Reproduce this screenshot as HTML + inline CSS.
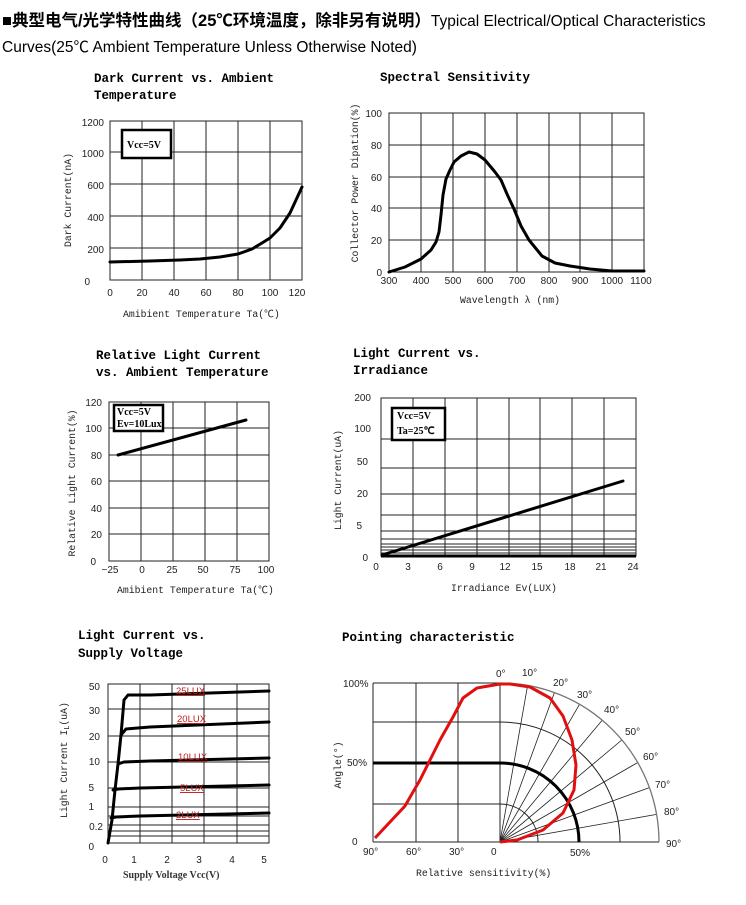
<!DOCTYPE html>
<html><head><meta charset="utf-8"><style>
body{margin:0;background:#fff}
svg{display:block}
.h{font-family:"Liberation Sans","Noto Sans CJK SC",sans-serif}
.t{font-family:"Liberation Mono","Noto Sans CJK SC",monospace;font-weight:bold;font-size:12.5px}
.n{font-family:"Liberation Sans",sans-serif;font-size:10px;fill:#222}
.m{font-family:"Liberation Mono","Noto Sans CJK SC",monospace;font-size:9.8px;fill:#222}
.g{stroke:#222;stroke-width:1;fill:none}
.c{stroke:#000;stroke-width:3;fill:none;stroke-linejoin:round;stroke-linecap:round}
.bx{font-family:"Liberation Serif",serif;font-weight:bold;font-size:10px}
</style></head><body>
<svg width="746" height="905" viewBox="0 0 746 905" xmlns="http://www.w3.org/2000/svg">
<text x="2" y="26" class="h" font-size="16.5" font-weight="bold">■典型电气/光学特性曲线（25℃环境温度，除非另有说明）<tspan font-weight="normal" font-size="15.5">Typical Electrical/Optical Characteristics</tspan></text>
<text x="2" y="52" class="h" font-size="15.5">Curves(25℃ Ambient Temperature Unless Otherwise Noted)</text>

<!-- Chart 1 -->
<text x="94" y="82" class="t">Dark Current vs. Ambient</text>
<text x="94" y="99" class="t">Temperature</text>
<g class="g">
<rect x="110" y="121" width="192" height="159"/>
<path d="M142 121V280M174 121V280M206 121V280M238 121V280M270 121V280M110 152H302M110 184H302M110 216H302M110 248H302"/>
</g>
<g class="n" text-anchor="end"><text x="104" y="126">1200</text><text x="104" y="157">1000</text><text x="104" y="189">600</text><text x="104" y="221">400</text><text x="104" y="253">200</text><text x="90" y="285">0</text></g>
<g class="n" text-anchor="middle"><text x="110" y="296">0</text><text x="142" y="296">20</text><text x="174" y="296">40</text><text x="206" y="296">60</text><text x="238" y="296">80</text><text x="270" y="296">100</text><text x="297" y="296">120</text></g>
<text x="123" y="317" class="m">Amibient Temperature Ta(℃)</text>
<text transform="translate(71,200) rotate(-90)" class="m" text-anchor="middle">Dark Current(nA)</text>
<rect x="122" y="130" width="49" height="28" fill="#fff" stroke="#000" stroke-width="2.5"/>
<text x="127" y="148" class="bx">Vcc=5V</text>
<path class="c" d="M110 262L150 261L180 260L200 259L220 257L238 254L252 249L262 243L270 238L280 228L290 213L302 187"/>

<!-- Chart 2 -->
<text x="380" y="81" class="t">Spectral Sensitivity</text>
<g class="g">
<rect x="389" y="113" width="255" height="159"/>
<path d="M421 113V272M453 113V272M485 113V272M517 113V272M549 113V272M580 113V272M612 113V272M389 145H644M389 177H644M389 208H644M389 240H644"/>
</g>
<g class="n" text-anchor="end"><text x="382" y="117">100</text><text x="382" y="149">80</text><text x="382" y="181">60</text><text x="382" y="212">40</text><text x="382" y="244">20</text><text x="382" y="276">0</text></g>
<g class="n" text-anchor="middle" font-size="9.5"><text x="389" y="284">300</text><text x="421" y="284">400</text><text x="453" y="284">500</text><text x="485" y="284">600</text><text x="517" y="284">700</text><text x="549" y="284">800</text><text x="580" y="284">900</text><text x="612" y="284">1000</text><text x="641" y="284">1100</text></g>
<text x="510" y="303" class="m" text-anchor="middle">Wavelength λ (nm)</text>
<text transform="translate(358,183) rotate(-90)" class="m" text-anchor="middle">Collector Power Dipation(%)</text>
<path class="c" d="M389 272L405 267L421 259L431 250L436 242L439 232L441 215L443 195L446 179L450 170L454 162L461 156L469 152L477 154L485 160L495 172L501 180L507 194L514 209L521 226L529 240L542 256L555 263L570 266L590 269L612 271L644 271"/>

<!-- Chart 3 -->
<text x="96" y="359" class="t">Relative Light Current</text>
<text x="96" y="376" class="t">vs. Ambient Temperature</text>
<g class="g">
<rect x="109" y="402" width="160" height="159"/>
<path d="M141 402V561M173 402V561M205 402V561M237 402V561M109 428H269M109 455H269M109 481H269M109 508H269M109 534H269"/>
</g>
<g class="n" text-anchor="end"><text x="102" y="406">120</text><text x="102" y="432">100</text><text x="102" y="459">80</text><text x="102" y="485">60</text><text x="102" y="512">40</text><text x="102" y="538">20</text><text x="96" y="565">0</text></g>
<g class="n" text-anchor="middle"><text x="110" y="573">−25</text><text x="142" y="573">0</text><text x="172" y="573">25</text><text x="203" y="573">50</text><text x="235" y="573">75</text><text x="266" y="573">100</text></g>
<text x="117" y="593" class="m">Amibient Temperature Ta(℃)</text>
<text transform="translate(75,483) rotate(-90)" class="m" text-anchor="middle">Relative Light Current(%)</text>
<rect x="114" y="405" width="49" height="26" fill="#fff" stroke="#000" stroke-width="2.5"/>
<text x="117" y="415" class="bx" font-size="9">Vcc=5V</text>
<text x="117" y="427" class="bx" font-size="9">Ev=10Lux</text>
<path class="c" d="M118 455L246 420"/>

<!-- Chart 4 -->
<text x="353" y="357" class="t">Light Current vs.</text>
<text x="353" y="374" class="t">Irradiance</text>
<g class="g">
<rect x="381" y="398" width="255" height="158"/>
<path d="M413 398V556M445 398V556M477 398V556M509 398V556M540 398V556M572 398V556M604 398V556M381 439H636M381 468H636M381 494H636M381 515H636M381 531H636M381 539H636M381 544H636M381 547H636M381 550H636M381 553H636"/>
</g>
<path d="M381 556H636" stroke="#000" stroke-width="3"/>
<g class="n" text-anchor="end"><text x="371" y="401">200</text><text x="371" y="432">100</text><text x="368" y="465">50</text><text x="368" y="497">20</text><text x="362" y="529">5</text><text x="368" y="561">0</text></g>
<g class="n" text-anchor="middle"><text x="376" y="570">0</text><text x="408" y="570">3</text><text x="440" y="570">6</text><text x="472" y="570">9</text><text x="505" y="570">12</text><text x="537" y="570">15</text><text x="570" y="570">18</text><text x="601" y="570">21</text><text x="633" y="570">24</text></g>
<text x="451" y="591" class="m">Irradiance Ev(LUX)</text>
<text transform="translate(341,480) rotate(-90)" class="m" text-anchor="middle">Light Current(uA)</text>
<rect x="392" y="408" width="53" height="32" fill="#fff" stroke="#000" stroke-width="2.5"/>
<text x="397" y="419" class="bx" font-size="9.5">Vcc=5V</text>
<text x="397" y="434" class="bx" font-size="9.5">Ta=25℃</text>
<path class="c" d="M382 555L623 481"/>

<!-- Chart 5 -->
<text x="78" y="639" class="t">Light Current vs.</text>
<text x="78" y="657" class="t">Supply Voltage</text>
<g class="g">
<rect x="108" y="684" width="161" height="159"/>
<path d="M140 684V843M172 684V843M204 684V843M237 684V843M108 709H269M108 736H269M108 762H269M108 788H269M108 807H269M108 816H269M108 825H269M108 831H269M108 836H269"/>
</g>
<g class="n" text-anchor="end"><text x="100" y="690">50</text><text x="100" y="714">30</text><text x="100" y="740">20</text><text x="100" y="765">10</text><text x="94" y="791">5</text><text x="94" y="810">1</text><text x="103" y="830">0.2</text><text x="94" y="850">0</text></g>
<g class="n" text-anchor="middle"><text x="105" y="863">0</text><text x="134" y="863">1</text><text x="167" y="863">2</text><text x="199" y="863">3</text><text x="232" y="863">4</text><text x="264" y="863">5</text></g>
<text x="123" y="878" class="bx" fill="#333">Supply Voltage Vcc(V)</text>
<text transform="translate(67,760) rotate(-90)" class="m" text-anchor="middle">Light Current I<tspan font-size="7" dy="2">L</tspan><tspan dy="-2">(uA)</tspan></text>
<g class="c">
<path d="M108 843L112 820L115 790L118 764L121 735L124 700L128 695L150 695L269 691"/>
<path d="M111 818L116 817L140 816L269 813"/>
<path d="M113 790L118 789L140 788L269 785"/>
<path d="M118 764L124 762L150 761L269 758"/>
<path d="M121 735L126 729L150 727L269 722"/>
</g>
<g font-family="Liberation Sans,sans-serif" font-size="9.5" fill="#c02020" text-decoration="underline"><text x="176" y="694">25LUX</text><text x="177" y="722">20LUX</text><text x="178" y="760">10LUX</text><text x="180" y="791">5LUX</text><text x="176" y="818">2LUX</text></g>

<!-- Chart 6 polar -->
<text x="342" y="641" class="t">Pointing characteristic</text>
<g class="g">
<path d="M373 683H500M373 722H500M373 763H500M373 804H500M373 683V842M416 683V842M458 683V842M500 683V842M373 842H659"/>
<path d="M500 722A120 120 0 0 1 620 842M500 804A38 38 0 0 1 538 842"/>
<g stroke-width="0.8">
<path d="M500 842L527.6 685.4M500 842L554.4 692.6M500 842L579.5 704.3M500 842L602.2 720.2M500 842L621.8 740.0M500 842L637.7 762.5M500 842L649.4 787.6M500 842L656.6 814.4"/>
</g>
</g>
<path d="M500 683A159 159 0 0 1 659 842" fill="none" stroke="#777" stroke-width="1.3"/>
<path d="M373 763H500A79 79 0 0 1 579 842" fill="none" stroke="#000" stroke-width="3"/>
<path d="M500 842L517 840L543 830L563 813L574 790L576 765L572 740L563 716L550 698L530 687L510 684L500 684L477 688L463 698L453 717L440 740L430 760L420 780L413 792L405 806L375 838" fill="none" stroke="#e01010" stroke-width="3" stroke-linejoin="round"/>
<g class="n" font-size="9.5"><text x="496" y="677">0°</text><text x="522" y="676">10°</text><text x="553" y="686">20°</text><text x="577" y="698">30°</text><text x="604" y="713">40°</text><text x="625" y="735">50°</text><text x="643" y="760">60°</text><text x="655" y="788">70°</text><text x="664" y="815">80°</text><text x="666" y="847">90°</text>
<text x="343" y="687">100%</text><text x="347" y="766">50%</text><text x="352" y="845">0</text><text x="363" y="855">90°</text><text x="406" y="855">60°</text><text x="449" y="855">30°</text><text x="491" y="855">0</text><text x="570" y="856">50%</text></g>
<text x="416" y="876" class="m">Relative sensitivity(%)</text>
<text transform="translate(341,765) rotate(-90)" class="m" text-anchor="middle">Angle(°)</text>
</svg>
</body></html>
